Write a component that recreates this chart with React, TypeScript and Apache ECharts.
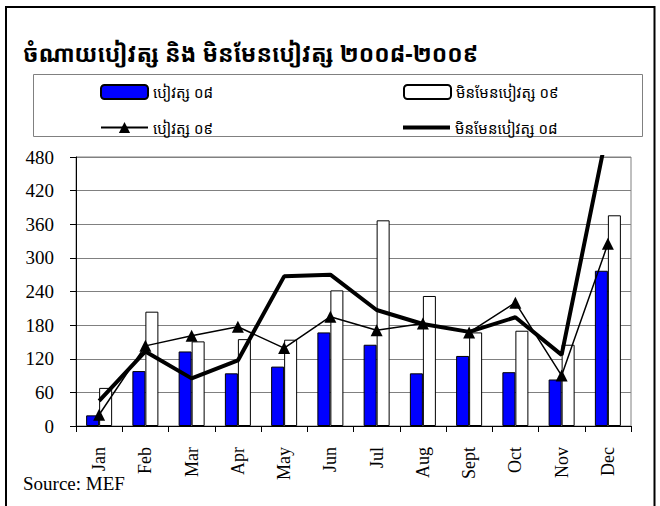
import React, { useEffect, useRef } from "react";
import * as echarts from "echarts";

const months = ["Jan", "Feb", "Mar", "Apr", "May", "Jun", "Jul", "Aug", "Sept", "Oct", "Nov", "Dec"];
const salary08 = [19, 98, 133, 94, 106, 167, 145, 94, 125, 96, 83, 277];
const nonSalary09 = [68, 204, 151, 155, 154, 242, 367, 232, 167, 170, 145, 376];
const salary09 = [20, 143, 161, 177, 139, 195, 171, 183, 167, 220, 90, 325];
const nonSalary08 = [45, 133, 85, 117, 267, 270, 207, 182, 168, 194, 127, 532];
const yTicks = { min: 0, max: 480, interval: 60 };

const TITLE = "ចំណាយបៀវត្ស និង មិនមែនបៀវត្ស ២០០៨-២០០៩";
const N_SAL08 = "បៀវត្ស ០៨";
const N_NON09 = "មិនមែនបៀវត្ស ០៩";
const N_SAL09 = "បៀវត្ស ០៩";
const N_NON08 = "មិនមែនបៀវត្ស ០៨";

const SERIF = '"Liberation Serif", "Times New Roman", serif';
const KHMER = '"Noto Sans Khmer", "Khmer OS", "Khmer OS System", "Noto Serif Khmer", "DejaVu Sans", sans-serif';

export default function App() {
  const ref = useRef<HTMLDivElement>(null);
  useEffect(() => {
    if (!ref.current) return;
    const chart = echarts.init(ref.current, undefined, { renderer: "svg" });
    const legendBase = {
      padding: 0,
      itemWidth: 47,
      itemHeight: 14,
      itemGap: 5,
      selectedMode: false,
      textStyle: { fontFamily: KHMER, fontSize: 15, color: "#000", lineHeight: 14, padding: [0, 0, 0, 0] },
    };
    chart.setOption({
      animation: false,
      backgroundColor: "#fff",
      title: {
        text: TITLE,
        left: 23,
        top: 41,
        padding: 0,
        textStyle: { fontFamily: KHMER, fontSize: 23, fontWeight: "bold", color: "#000" },
      },
      legend: [
        { ...legendBase, left: 100, top: 84, data: [N_SAL08] },
        { ...legendBase, left: 403, top: 84, data: [N_NON09] },
        { ...legendBase, left: 100, top: 120, data: [N_SAL09] },
        {
          ...legendBase,
          left: 403,
          top: 120,
          icon: "rect",
          itemHeight: 4,
          data: [N_NON08],
        },
      ],
      grid: {
        left: 76,
        right: 29,
        top: 157,
        bottom: 80,
        show: true,
        borderColor: "#808080",
        borderWidth: 1,
        containLabel: false,
      },
      xAxis: {
        type: "category",
        data: months,
        boundaryGap: true,
        axisLine: { lineStyle: { color: "#000", width: 1 } },
        axisTick: { show: true, length: 6, alignWithLabel: false, lineStyle: { color: "#000" } },
        axisLabel: { rotate: 90, margin: 21, fontFamily: SERIF, fontSize: 18, color: "#000" },
        splitLine: { show: false },
      },
      yAxis: {
        type: "value",
        min: yTicks.min,
        max: yTicks.max,
        interval: yTicks.interval,
        axisLine: { show: true, lineStyle: { color: "#000", width: 1 } },
        axisTick: { show: true, length: 6, lineStyle: { color: "#000" } },
        axisLabel: { margin: 22, fontFamily: SERIF, fontSize: 19, color: "#000" },
        splitLine: { show: true, lineStyle: { color: "#808080", width: 1 } },
      },
      series: [
        {
          name: N_SAL08,
          type: "bar",
          data: salary08,
          barWidth: 13,
          barGap: "0%",
          itemStyle: { color: "#0000ff", borderColor: "#000", borderWidth: 1 },
        },
        {
          name: N_NON09,
          type: "bar",
          data: nonSalary09,
          barWidth: 13,
          barGap: "0%",
          itemStyle: { color: "#ffffff", borderColor: "#000", borderWidth: 1 },
        },
        {
          name: N_SAL09,
          type: "line",
          data: salary09,
          symbol: "triangle",
          symbolSize: 12,
          showSymbol: true,
          clip: true,
          z: 4,
          lineStyle: { color: "#000", width: 1.5 },
          itemStyle: { color: "#000" },
        },
        {
          name: N_NON08,
          type: "line",
          data: nonSalary08,
          symbol: "none",
          showSymbol: false,
          clip: true,
          z: 3,
          lineStyle: { color: "#000", width: 4 },
          itemStyle: { color: "#000" },
        },
      ],
      graphic: [
        {
          type: "rect",
          shape: { x: 6, y: 7, width: 648.5, height: 520 },
          style: { fill: "none", stroke: "#000", lineWidth: 2 },
          silent: true,
          z: 100,
        },
        {
          type: "rect",
          shape: { x: 33.5, y: 74.5, width: 609, height: 62 },
          style: { fill: "none", stroke: "#808080", lineWidth: 1 },
          silent: true,
        },
        {
          type: "text",
          left: 23,
          top: 474,
          style: { text: "Source: MEF", font: `19px ${SERIF}`, fill: "#000" },
        },
      ],
    });
    return () => chart.dispose();
  }, []);
  return (
    <div
      ref={ref}
      style={{ position: "fixed", left: 0, top: 0, width: 660, height: 506, background: "#fff" }}
    />
  );
}
